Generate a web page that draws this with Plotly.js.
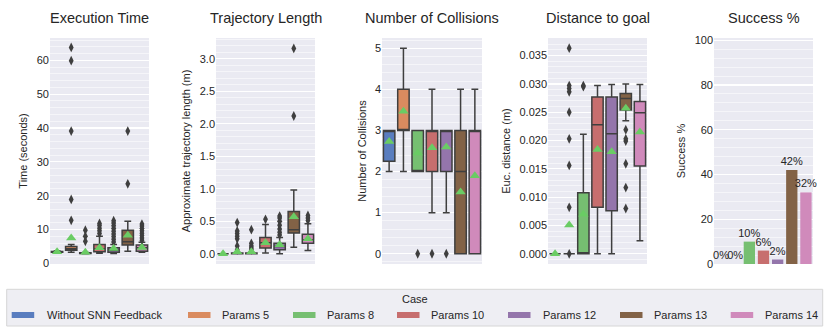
<!DOCTYPE html>
<html>
<head>
<meta charset="utf-8">
<script src="https://cdn.plot.ly/plotly-3.0.1.min.js"></script>
<style>
  html, body { margin: 0; padding: 0; background: #fff; }
  #chart { width: 830px; height: 332px; }
</style>
</head>
<body>
<div id="chart"></div>
<script>
// cases and their colours
const cases = ['Without SNN Feedback', 'Params 5', 'Params 8', 'Params 10', 'Params 12', 'Params 13', 'Params 14'];
const caseColors = ['#597dbf', '#da8b5f', '#76bf71', '#c76e6e', '#9475ab', '#826246', '#d08abb'];

// Execution time (seconds)
const timeQ1 = [3.3, 3.9, 2.9, 3.4, 3.3, 5.4, 3.6];
const timeMed = [3.4, 4.3, 3.0, 4.2, 3.9, 6.4, 4.6];
const timeQ3 = [3.5, 5.0, 3.1, 5.6, 4.6, 9.8, 5.4];
const timeLo = [3.2, 3.3, 2.8, 3.0, 2.9, 3.6, 3.3];
const timeHi = [3.7, 5.6, 3.2, 8.0, 5.6, 12.4, 6.2];
const timeMean = [3.4, 7.5, 3.3, 4.6, 4.4, 8.3, 4.7];
const timeOut = [[], [12.7, 18.9, 39.1, 59.9, 63.8], [6.5, 8.0, 9.8], [8.8, 9.6, 10.4, 11.2, 11.8],
  [6.3, 7.1, 7.9, 8.7, 9.5, 10.3, 11.1, 11.9, 12.6], [23.5, 39.1], [6.8, 7.5, 8.2, 8.9, 9.6, 10.3, 11.0, 11.6]];

// Trajectory length (m)
const trajQ1 = [0, 0, 0, 0.09, 0.06, 0.32, 0.16];
const trajMed = [0, 0, 0, 0.17, 0.11, 0.37, 0.21];
const trajQ3 = [0, 0.01, 0.01, 0.25, 0.16, 0.65, 0.30];
const trajLo = [0, 0, 0, 0.01, 0, 0.10, 0.05];
const trajHi = [0, 0.02, 0.02, 0.45, 0.25, 0.98, 0.46];
const trajMean = [0, 0.03, 0.03, 0.17, 0.14, 0.57, 0.23];
const trajOut = [[], [0.06, 0.12, 0.23, 0.27, 0.31, 0.35, 0.48], [0.06, 0.09, 0.12, 0.16, 0.37], [0.53],
  [0.29, 0.33, 0.38, 0.44, 0.50, 0.55, 0.58], [2.12, 3.16], [0.51, 0.55, 0.59]];

// Number of collisions
const collQ1 = [2.25, 3, 2, 2, 2, 0, 0];
const collMed = [3, 3, 2, 3, 3, 2, 3];
const collQ3 = [3, 4, 3, 3, 3, 3, 3];
const collLo = [2, 2, 2, 1, 1, 0, 0];
const collHi = [3, 5, 3, 4, 3, 4, 4];
const collMean = [2.73, 3.47, 2.45, 2.58, 2.6, 1.5, 1.9];
const collOut = [[], [], [0], [0], [0], [], []];

// Distance to goal (m)
const distQ1 = [0, 0, 0, 0.0082, 0.0076, 0.0254, 0.0155];
const distMed = [0, 0, 0, 0.0228, 0.0212, 0.0274, 0.0249];
const distQ3 = [0, 0, 0.0108, 0.0277, 0.0277, 0.0283, 0.0269];
const distLo = [0, 0, 0, 0, 0, 0.0235, 0.0023];
const distHi = [0, 0, 0.0211, 0.0297, 0.0299, 0.0300, 0.0299];
const distMean = [0, 0.0051, 0.0070, 0.0184, 0.0180, 0.0257, 0.0215];
const distOut = [[], [0, 0.0082, 0.0156, 0.0203, 0.0250, 0.0286, 0.0292, 0.0297, 0.0363], [0.0295, 0.0297], [], [],
  [0.0080, 0.0117, 0.0159, 0.0199, 0.0203, 0.0219], []];

// Success %
const successPct = [0, 0, 10, 6, 2, 42, 32];

const W = 830, H = 332;
const ink = '#262626';
const edge = '#3f3f3f';
const meanGreen = '#6acc64';

const panels = [
  {title: 'Execution Time', ylab: 'Time (seconds)', q1: timeQ1, med: timeMed, q3: timeQ3, lo: timeLo, hi: timeHi, mean: timeMean, out: timeOut,
   range: [-0.2, 66.6], dtick: 10, minor: 2, fmt: '', px: [50, 149]},
  {title: 'Trajectory Length', ylab: 'Approximate trajectory length (m)', q1: trajQ1, med: trajMed, q3: trajQ3, lo: trajLo, hi: trajHi, mean: trajMean, out: trajOut,
   range: [-0.158, 3.32], dtick: 0.5, minor: 0.1, fmt: '.1f', px: [216, 315]},
  {title: 'Number of Collisions', ylab: 'Number of Collisions', q1: collQ1, med: collMed, q3: collQ3, lo: collLo, hi: collHi, mean: collMean, out: collOut,
   range: [-0.25, 5.25], dtick: 1, minor: 0.2, fmt: '', px: [382, 482]},
  {title: 'Distance to goal', ylab: 'Euc. distance (m)', q1: distQ1, med: distMed, q3: distQ3, lo: distLo, hi: distHi, mean: distMean, out: distOut,
   range: [-0.0018, 0.0381], dtick: 0.005, minor: 0.001, fmt: '.3f', px: [548, 647]},
  {title: 'Success %', ylab: 'Success %', range: [0, 101], dtick: 20, minor: 4, fmt: '', px: [714, 813]}
];

const plotTop = 38, plotBottom = 264;
const traces = [];
const layout = {
  width: W, height: H,
  margin: {l: 0, r: 0, t: 0, b: 0},
  paper_bgcolor: '#ffffff',
  plot_bgcolor: '#eaeaf2',
  font: {family: 'Liberation Sans, Arial, sans-serif', color: ink},
  showlegend: false,
  boxmode: 'overlay',
  annotations: [],
  shapes: []
};

const idx = cases.map((c, i) => i);

panels.forEach((p, k) => {
  const n = k === 0 ? '' : String(k + 1);
  const xa = 'x' + n, ya = 'y' + n;
  layout['xaxis' + n] = {
    domain: [p.px[0] / W, p.px[1] / W], anchor: ya,
    range: [-0.5, 6.5], showticklabels: false, showgrid: false, zeroline: false, ticks: '', fixedrange: true
  };
  layout['yaxis' + n] = {
    domain: [1 - plotBottom / H, 1 - plotTop / H], anchor: xa,
    range: p.range, dtick: p.dtick, tick0: 0, tickformat: p.fmt,
    gridcolor: '#ffffff', gridwidth: 1.3, zeroline: false, ticks: '',
    tickfont: {size: 11, color: ink},
    minor: {dtick: p.minor, tick0: 0, showgrid: true, gridcolor: '#ffffff', gridwidth: 0.5},
    title: {text: p.ylab, font: {size: 11, color: ink}, standoff: 6},
    fixedrange: true
  };
  layout.annotations.push({
    text: p.title, xref: 'paper', yref: 'paper',
    x: (p.px[0] + p.px[1]) / 2 / W, y: 1 - 18 / H,
    xanchor: 'center', yanchor: 'middle', showarrow: false,
    font: {size: 14.5, color: ink}
  });

  if (p.q1) {
    cases.forEach((c, i) => {
      traces.push({
        type: 'box', orientation: 'v', name: c, x: [i],
        q1: [p.q1[i]], median: [p.med[i]], q3: [p.q3[i]],
        lowerfence: [p.lo[i]], upperfence: [p.hi[i]],
        width: 0.8, whiskerwidth: 0.6, boxpoints: false,
        fillcolor: caseColors[i], line: {color: edge, width: 1.5},
        xaxis: xa, yaxis: ya, hoverinfo: 'skip', showlegend: false
      });
    });
    const ox = [], oy = [];
    p.out.forEach((vals, i) => vals.forEach(v => { ox.push(i); oy.push(v); }));
    traces.push({
      type: 'scatter', mode: 'markers', x: ox, y: oy, xaxis: xa, yaxis: ya,
      marker: {symbol: 'diamond-tall', size: 7, color: edge}, hoverinfo: 'skip', showlegend: false, cliponaxis: false
    });
    traces.push({
      type: 'scatter', mode: 'markers', x: idx, y: p.mean, xaxis: xa, yaxis: ya,
      marker: {symbol: 'triangle-up', size: 9, color: meanGreen}, hoverinfo: 'skip', showlegend: false
    });
  } else {
    traces.push({
      type: 'bar', x: idx, y: successPct, xaxis: xa, yaxis: ya, width: 0.8,
      marker: {color: caseColors, line: {width: 0}},
      text: successPct.map(v => v + '%'), textposition: 'outside', cliponaxis: false,
      constraintext: 'none',
      textfont: {size: 11, color: ink}, hoverinfo: 'skip', showlegend: false
    });
  }
});

// legend drawn as a framed row of patches under the panels
const legendPatchX = [11.7, 188, 293, 397, 508, 620, 730.7];
const legendTextX = [45, 220, 324.5, 429, 541, 652, 763];
layout.shapes.push({
  type: 'rect', xref: 'paper', yref: 'paper',
  x0: 6.7 / W, x1: 822.7 / W, y0: 1 - 326 / H, y1: 1 - 289.3 / H,
  fillcolor: '#eeeef3', line: {color: '#d6d6d6', width: 1}, layer: 'below'
});
layout.annotations.push({
  text: 'Case', xref: 'paper', yref: 'paper', x: 414.7 / W, y: 1 - 299 / H,
  xanchor: 'center', yanchor: 'middle', showarrow: false, font: {size: 11, color: ink}
});
cases.forEach((c, i) => {
  layout.shapes.push({
    type: 'rect', xref: 'paper', yref: 'paper',
    x0: legendPatchX[i] / W, x1: (legendPatchX[i] + 22.5) / W,
    y0: 1 - 318 / H, y1: 1 - 312 / H,
    fillcolor: caseColors[i], line: {width: 0}
  });
  layout.annotations.push({
    text: c, xref: 'paper', yref: 'paper', x: legendTextX[i] / W, y: 1 - 315 / H,
    xanchor: 'left', yanchor: 'middle', showarrow: false, font: {size: 11, color: ink}
  });
});

Plotly.newPlot('chart', traces, layout, {displayModeBar: false, staticPlot: true});
</script>
</body>
</html>
